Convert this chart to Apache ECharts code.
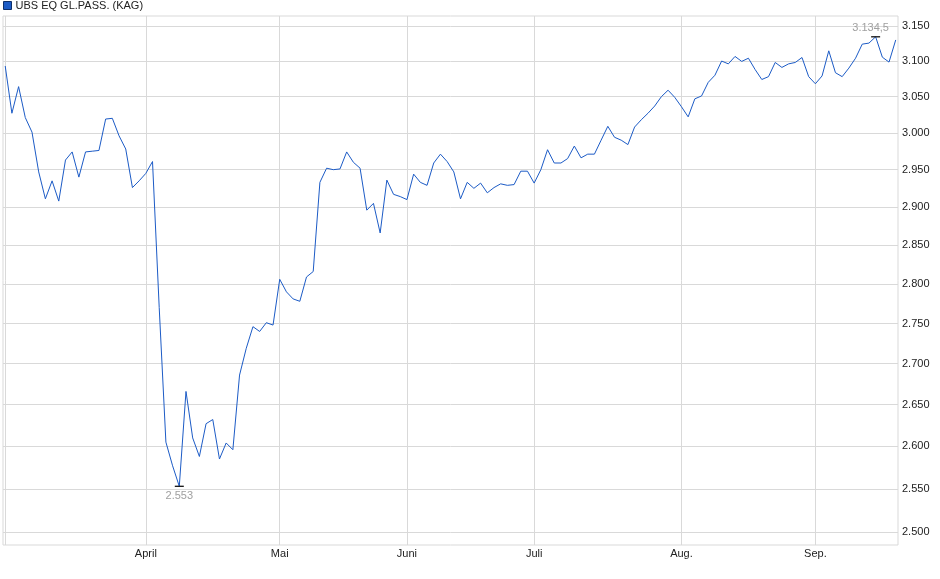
<!DOCTYPE html>
<html>
<head>
<meta charset="utf-8">
<script src="https://cdn.jsdelivr.net/npm/echarts@6/dist/echarts.min.js"></script>
<style>
html,body{margin:0;padding:0;background:#fff;}
#chart{width:940px;height:579px;}
</style>
</head>
<body>
<div id="chart"></div>
<script>
// Fund name
var seriesName = 'UBS EQ GL.PASS. (KAG)';

// Daily values (trading days, from early March to mid September)
var values = [
  3093, 3027, 3064, 3021, 3001, 2947, 2911, 2935, 2908, 2963,
  2974, 2940, 2974, 2975, 2976, 3019, 3020, 2996, 2978, 2926,
  2935, 2945, 2961, 2770, 2605, 2577, 2553, 2666, 2610, 2588,
  2627, 2632, 2585, 2604, 2596, 2686, 2719, 2746, 2740, 2751,
  2748, 2806, 2790, 2781, 2778, 2809, 2816, 2933, 2952, 2950,
  2951, 2974, 2960, 2952, 2896, 2905, 2866, 2936, 2917, 2914,
  2910, 2944, 2933, 2929, 2959, 2971, 2961, 2947, 2911, 2933,
  2925, 2932, 2919, 2926, 2931, 2929, 2930, 2948, 2948, 2932,
  2950, 2977, 2959, 2959, 2965, 2982, 2966, 2971, 2971, 2990,
  3009, 2994, 2990, 2984, 3008, 3018, 3027, 3037, 3050, 3059,
  3049, 3036, 3022, 3047, 3051, 3070, 3080, 3100, 3096, 3106.5,
  3099.5, 3104, 3088, 3074, 3078, 3098, 3091, 3096, 3098, 3105,
  3078, 3068, 3079, 3114.5, 3083.5, 3078, 3090, 3104, 3124, 3125.5,
  3134.5, 3105.5, 3098.5, 3130
];

// Month boundaries (index of first trading day) and names
var monthStartIdx = [0, 21, 41, 60, 79, 101, 121];
var monthNames    = ['März', 'April', 'Mai', 'Juni', 'Juli', 'Aug.', 'Sep.'];
var monthLabelIdx = [21, 41, 60, 79, 101, 121];

// Y axis tick values
var yTicks = [2500, 2550, 2600, 2650, 2700, 2750, 2800, 2850, 2900, 2950, 3000, 3050, 3100, 3150];

function fmtDE(v) {
  var s = String(v);
  var parts = s.split('.');
  var intPart = parts[0].replace(/\B(?=(\d{3})+(?!\d))/g, '.');
  return parts.length > 1 ? intPart + ',' + parts[1] : intPart;
}

var data = values.map(function (v, i) { return [i, v]; });
var FONT = '"Liberation Sans", Arial, sans-serif';
var GRID = '#d9d9d9';

var chart = echarts.init(document.getElementById('chart'), null, {renderer: 'canvas'});
chart.setOption({
  animation: false,
  backgroundColor: '#fff',
  textStyle: {fontFamily: FONT},
  legend: {
    left: 0, top: 0, padding: [0, 0, 0, 3],
    icon: 'rect', itemWidth: 8, itemHeight: 8,
    itemStyle: {borderColor: '#0d2f6b', borderWidth: 1},
    textStyle: {fontSize: 11, color: '#222', fontFamily: FONT, padding: [0, 0, 0, -1]},
    data: [seriesName]
  },
  grid: {
    left: 3, right: 42, top: 16, bottom: 34,
    show: true, borderColor: GRID, borderWidth: 1
  },
  xAxis: {
    type: 'value',
    min: -0.33, max: values.length - 1 + 0.34,
    axisLine: {show: false},
    axisTick: {show: false, customValues: monthStartIdx},
    splitLine: {show: true, lineStyle: {color: GRID, width: 1}},
    axisLabel: {
      customValues: monthLabelIdx,
      margin: 3,
      fontSize: 11, color: '#222', fontFamily: FONT,
      formatter: function (v) {
        var k = monthStartIdx.indexOf(Math.round(v));
        return k >= 0 ? monthNames[k] : '';
      }
    }
  },
  yAxis: {
    type: 'log',
    logBase: 10,
    position: 'right',
    min: 2485.5, max: 3164.4,
    axisLine: {show: false},
    axisTick: {show: false, customValues: yTicks},
    splitLine: {show: true, lineStyle: {color: GRID, width: 1}},
    axisLabel: {
      customValues: yTicks,
      margin: 4,
      fontSize: 11, color: '#222', fontFamily: FONT,
      formatter: function (v) { return fmtDE(Math.round(v)); }
    }
  },
  series: [{
    name: seriesName,
    type: 'line',
    data: data,
    showSymbol: false,
    symbol: 'none',
    color: '#1c5bc6',
    lineStyle: {color: '#1c5bc6', width: 1},
    markPoint: {
      symbol: 'rect',
      symbolSize: [9, 1.3],
      itemStyle: {color: '#111'},
      label: {
        fontSize: 11, color: '#a0a0a0', fontFamily: FONT,
        formatter: function (p) { return fmtDE(p.value); }
      },
      data: [
        {type: 'min', label: {position: 'bottom', distance: 4}},
        {type: 'max', label: {position: 'top', distance: 3, offset: [-5, 0]}}
      ]
    }
  }]
});
</script>
</body>
</html>
